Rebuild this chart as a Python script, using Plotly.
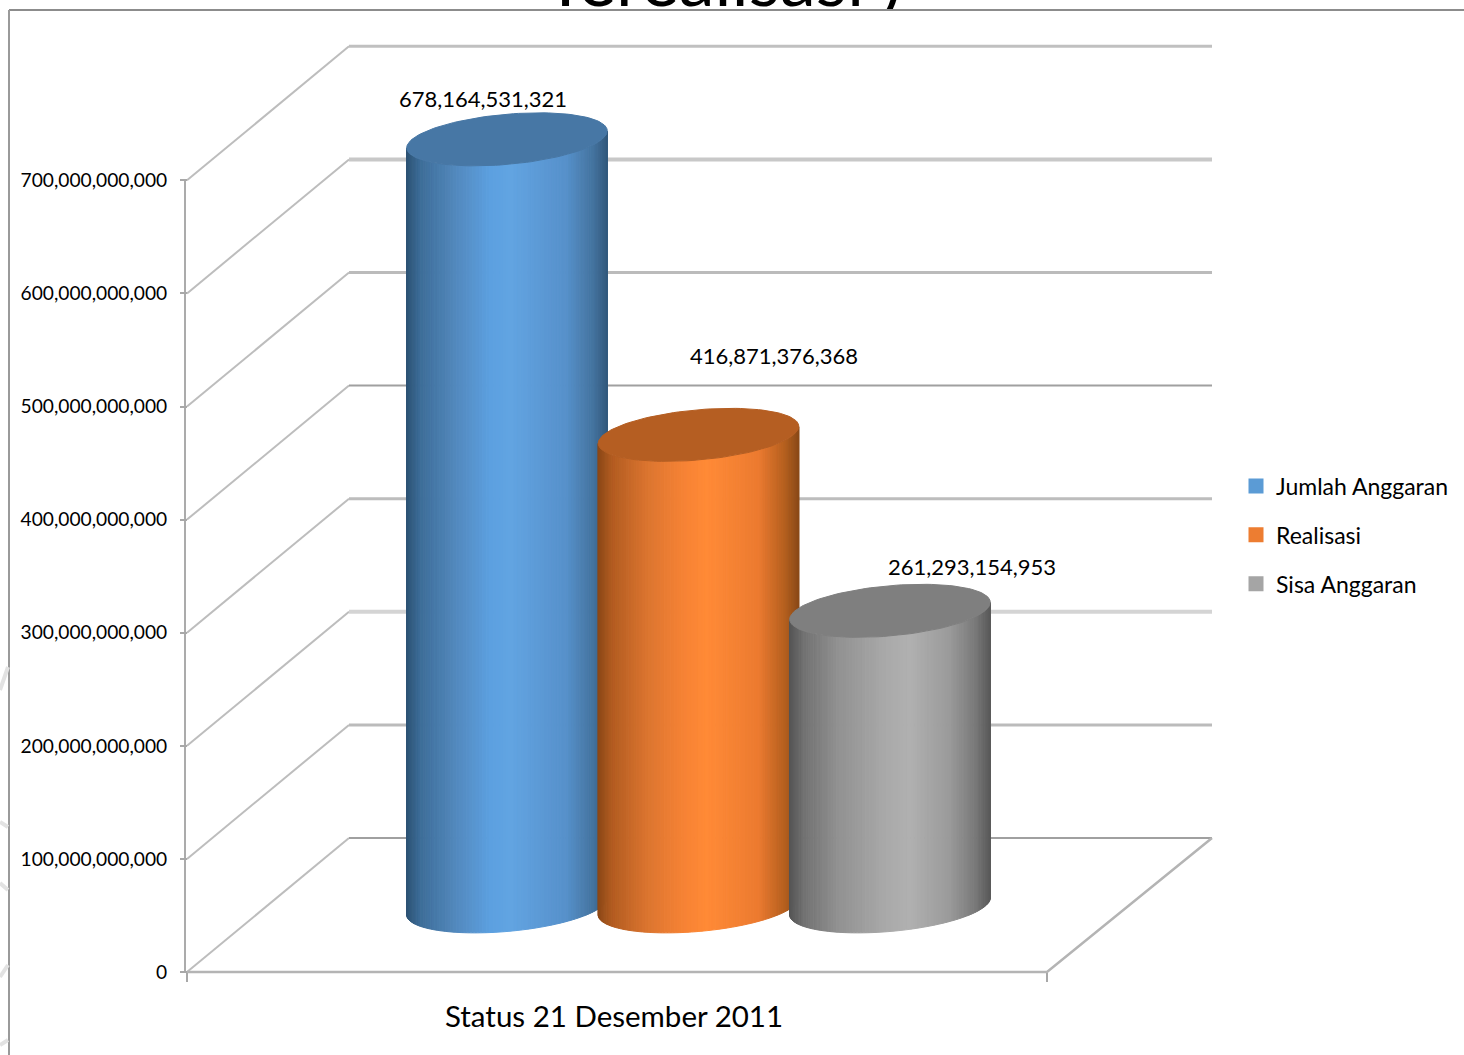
import math

import plotly.graph_objects as go

# Budget figures, rupiah
series_names = ["Jumlah Anggaran", "Realisasi", "Sisa Anggaran"]
series_values = [678164531321, 416871376368, 261293154953]
category_label = "Status 21 Desember 2011"
value_ticks = [0, 100e9, 200e9, 300e9, 400e9, 500e9, 600e9, 700e9]
heading = "Terealisasi )"

WIDTH, HEIGHT = 1464, 1055
FONT = "Lato"

# Oblique projection of the 3D chart box onto the drawing axes
PX_PER_UNIT = 113.1 / 100e9
ZERO_ROW = 972.0
DEPTH_DX, DEPTH_DY = 162.0, 134.0
FRONT_LEFT, FRONT_RIGHT = 187.0, 1047.0


def value_at_row(row):
    return (ZERO_ROW - row) / PX_PER_UNIT


def project(u, depth, value):
    return u + DEPTH_DX * depth, value + DEPTH_DY * depth / PX_PER_UNIT


def polyline(points):
    xs, ys = zip(*[project(*p) for p in points])
    return list(xs), list(ys)


def lerp_hex(stops, t):
    for (t0, c0), (t1, c1) in zip(stops, stops[1:]):
        if t <= t1:
            f = 0 if t1 == t0 else (t - t0) / (t1 - t0)
            a = [int(c0[i:i + 2], 16) for i in (1, 3, 5)]
            b = [int(c1[i:i + 2], 16) for i in (1, 3, 5)]
            return "rgb(%d,%d,%d)" % tuple(round(x + (y - x) * f) for x, y in zip(a, b))
    return stops[-1][1]


# Cylinder styling, one entry per series
side_ramps = [
    [(0, "#2C5273"), (0.07, "#3D6D98"), (0.25, "#5389BE"), (0.42, "#5CA0E0"), (0.52, "#62A4E2"),
     (0.8, "#5690CA"), (0.93, "#44749F"), (1, "#335A7E")],
    [(0, "#8A4717"), (0.07, "#B25C20"), (0.25, "#DC7530"), (0.45, "#F98435"), (0.55, "#FF8A36"),
     (0.8, "#EC7A30"), (0.93, "#B5601F"), (1, "#8B4A18")],
    [(0, "#545454"), (0.07, "#717171"), (0.25, "#929292"), (0.5, "#ABABAB"), (0.6, "#B0B0B0"),
     (0.8, "#9A9A9A"), (0.93, "#787878"), (1, "#5A5A5A")],
]
cap_colors = ["#4777A5", "#B55E22", "#7F7F7F"]
swatch_colors = ["#5B9BD5", "#ED7D31", "#A5A5A5"]
label_spots = [(483, 98), (774, 355), (972, 566)]

# Cylinder footprint on the floor plane
SLOT_START, SLOT_STEP = 427.6, 191.5
RADIUS_U = 95.0
RADIUS_D = 0.198
DEPTH_CENTER = 0.49
STRIPS = 90

grid_styles = {
    0: ("#A0A0A0", 2), 100e9: ("#BBBBBB", 3), 200e9: ("#D4D4D4", 4), 300e9: ("#BDBDBD", 3),
    400e9: ("#A0A0A0", 2), 500e9: ("#BBBBBB", 3), 600e9: ("#C8C8C8", 4), 700e9: ("#C0C0C0", 3),
}

fig = go.Figure()

# Heading, running off the top of the slide behind the chart frame
fig.add_trace(go.Scatter(x=[723], y=[value_at_row(24)], mode="text", text=[heading],
                         textposition="top center", cliponaxis=False, showlegend=False, hoverinfo="skip",
                         textfont=dict(family=FONT, size=72, color="#000000")))

# Wall and side gridlines
for v in value_ticks:
    color, w = grid_styles[v]
    x, y = polyline([(FRONT_LEFT, 0, v), (FRONT_LEFT, 1, v)])
    fig.add_trace(go.Scatter(x=x, y=y, mode="lines", line=dict(color="#BDBDBD", width=2),
                             showlegend=False, hoverinfo="skip"))
    x, y = polyline([(FRONT_LEFT, 1, v), (FRONT_RIGHT + 3, 1, v)])
    fig.add_trace(go.Scatter(x=x, y=y, mode="lines", line=dict(color=color, width=w),
                             showlegend=False, hoverinfo="skip"))
x, y = polyline([(FRONT_LEFT, 0, 0), (FRONT_RIGHT, 0, 0), (FRONT_RIGHT + 3, 1, 0)])
fig.add_trace(go.Scatter(x=x, y=y, mode="lines", line=dict(color="#B4B4B4", width=2.5),
                         showlegend=False, hoverinfo="skip"))
x, y = polyline([(FRONT_LEFT - 2, 0, 0), (FRONT_LEFT - 2, 0, value_ticks[-1])])
fig.add_trace(go.Scatter(x=x, y=y, mode="lines", line=dict(color="#ABABAB", width=2),
                         showlegend=False, hoverinfo="skip"))

# Cylinders: vertical shaded strips along the visible front, then the cap
for i, value in enumerate(series_values):
    cu = SLOT_START + SLOT_STEP * i

    def rim(t, v):
        return (cu + RADIUS_U * math.cos(t), DEPTH_CENTER + RADIUS_D * math.sin(t), v)

    # Parameter values where the outline is tangent to the vertical sides
    t_right = math.atan2(DEPTH_DX * RADIUS_D, RADIUS_U)
    t_left = t_right - math.pi
    half = math.hypot(RADIUS_U, DEPTH_DX * RADIUS_D)
    for k in range(STRIPS):
        t0 = t_left + (t_right - t_left) * k / STRIPS
        t1 = t_left + (t_right - t_left) * (k + 1) / STRIPS
        x0 = project(*rim(t0, 0))[0]
        x1 = project(*rim(t1, 0))[0]
        shade = (0.5 * (x0 + x1) - (cu + DEPTH_DX * DEPTH_CENTER - half)) / (2 * half)
        color = lerp_hex(side_ramps[i], shade)
        x, y = polyline([rim(t0, 0), rim(t1, 0), rim(t1, value), rim(t0, value), rim(t0, 0)])
        fig.add_trace(go.Scatter(x=x, y=y, mode="lines", fill="toself", fillcolor=color,
                                 line=dict(color=color, width=1), showlegend=False, hoverinfo="skip"))
    x, y = polyline([rim(2 * math.pi * a / 120, value) for a in range(121)])
    fig.add_trace(go.Scatter(x=x, y=y, mode="lines", fill="toself", fillcolor=cap_colors[i],
                             line=dict(color=cap_colors[i], width=1), showlegend=False,
                             hovertemplate=f"{series_names[i]}: {value:,}<extra></extra>"))

# Legend entries
for name, color in zip(series_names, swatch_colors):
    fig.add_trace(go.Scatter(x=[None], y=[None], mode="markers", name=name, legendgroup=name,
                             marker=dict(symbol="square", size=15, color=color)))

annotations = []
for value, (lx, ly) in zip(series_values, label_spots):
    annotations.append(dict(x=lx, y=value_at_row(ly), xref="x", yref="y", text=f"{value:,}",
                            showarrow=False, xanchor="center", yanchor="middle",
                            font=dict(family=FONT, size=22, color="#000000")))

shapes = [
    # White chart panel hiding the lower edge of the heading
    dict(type="rect", xref="paper", yref="paper", layer="above", x0=500 / WIDTH, x1=960 / WIDTH,
         y0=1 - 40 / HEIGHT, y1=1 - 10 / HEIGHT, fillcolor="white", line=dict(width=0)),
    # Slide frame along the top and left edges
    dict(type="line", xref="paper", yref="paper", x0=9 / WIDTH, x1=1, y0=1 - 10 / HEIGHT, y1=1 - 10 / HEIGHT,
         line=dict(color="#8C8C8C", width=2)),
    dict(type="line", xref="paper", yref="paper", x0=9 / WIDTH, x1=9 / WIDTH, y0=0, y1=1 - 10 / HEIGHT,
         line=dict(color="#9A9A9A", width=2)),
]
# Faint background arcs left of the frame
for r0, c0, r1, c1 in [(667, 8, 690, 0), (822, 0, 827, 8), (883, 0, 890, 8), (965, 8, 977, 0), (1045, 0, 1040, 8)]:
    shapes.append(dict(type="line", xref="paper", yref="paper", x0=c0 / WIDTH, x1=c1 / WIDTH,
                       y0=1 - r0 / HEIGHT, y1=1 - r1 / HEIGHT, line=dict(color="#E2E2E2", width=4)))

fig.update_layout(
    width=WIDTH, height=HEIGHT, autosize=False,
    margin=dict(l=0, r=0, t=0, b=0),
    paper_bgcolor="white", plot_bgcolor="white",
    font=dict(family=FONT, color="#000000"),
    annotations=annotations, shapes=shapes,
    legend=dict(x=1236 / WIDTH, y=1 - 535 / HEIGHT, xanchor="left", yanchor="middle",
                bgcolor="rgba(0,0,0,0)", tracegroupgap=16, itemsizing="trace",
                font=dict(family=FONT, size=23, color="#000000")),
    xaxis=dict(range=[0, WIDTH], domain=[0, 1], showgrid=False, zeroline=False, showline=False,
               anchor="free", position=(HEIGHT - ZERO_ROW) / HEIGHT,
               tickvals=[(FRONT_LEFT + FRONT_RIGHT) / 2 - 3], ticktext=[category_label],
               ticks="", ticklabelstandoff=24,
               tickfont=dict(family=FONT, size=29.5, color="#000000"),
               minor=dict(tickvals=[FRONT_LEFT, FRONT_RIGHT], ticks="outside", ticklen=9, tickwidth=2,
                          tickcolor="#A8A8A8", showgrid=False)),
    yaxis=dict(range=[value_at_row(HEIGHT), value_at_row(0)], domain=[0, 1], showgrid=False, zeroline=False,
               showline=False, anchor="free", position=FRONT_LEFT / WIDTH,
               tickvals=value_ticks, tickformat=",d", ticks="outside", ticklen=7, tickwidth=2,
               tickcolor="#A8A8A8", ticklabelstandoff=9,
               tickfont=dict(family=FONT, size=19.2, color="#000000")),
)

fig.write_html("out.html")
